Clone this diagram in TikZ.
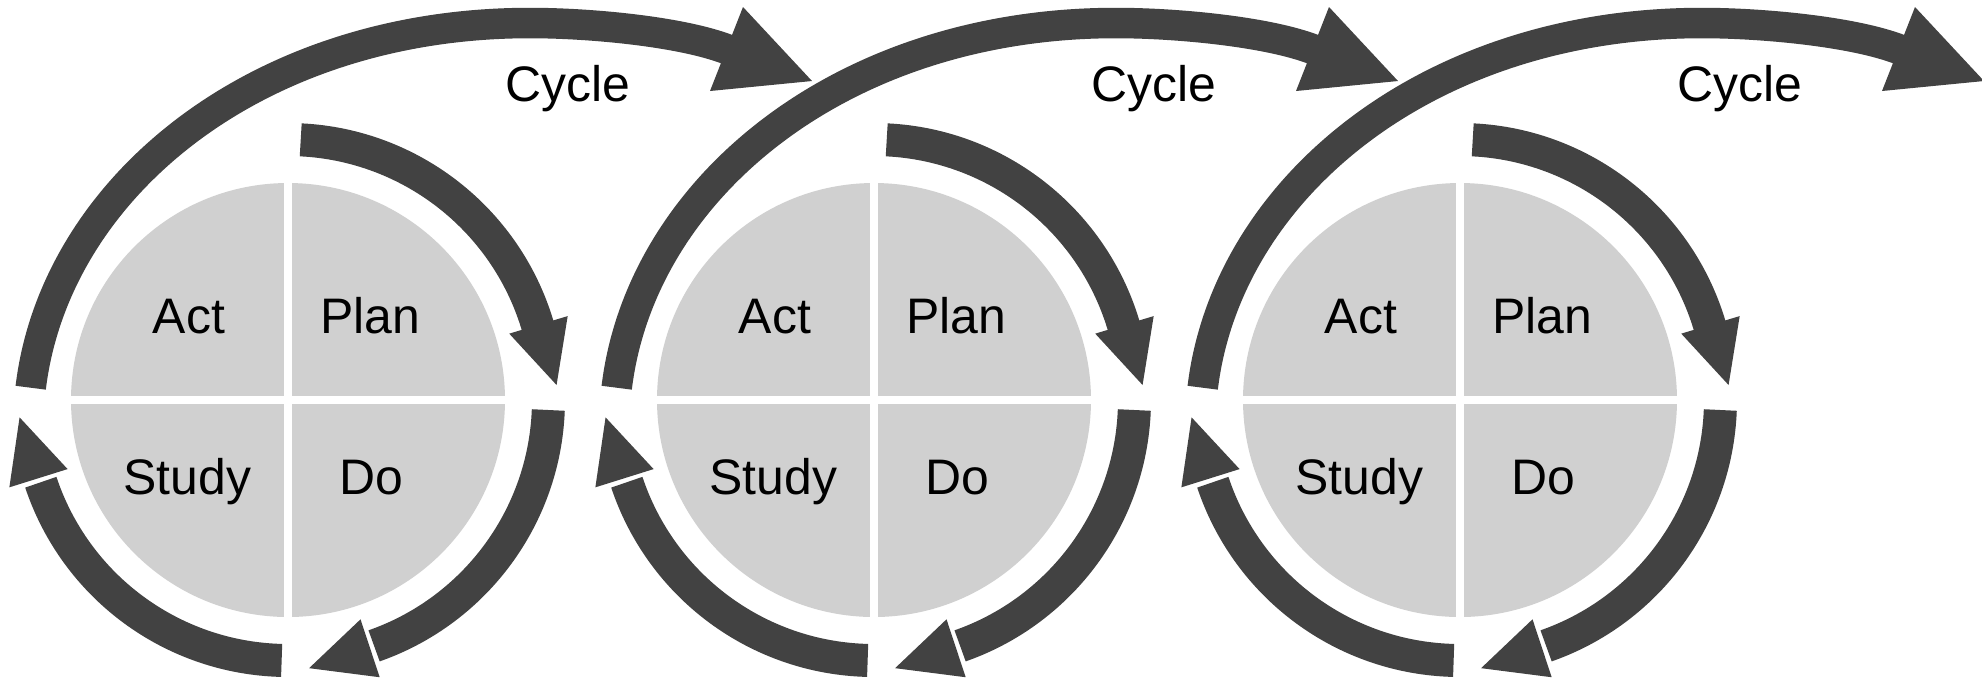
\documentclass[tikz,border=0pt]{standalone}
\usepackage{fontspec}
\setmainfont{Liberation Sans}
\usepackage{xcolor}
\usepackage{tikz}
\usetikzlibrary{calc}
\definecolor{cyclegray}{RGB}{66, 66, 66}
\definecolor{piegray}{RGB}{208, 208, 208}

\begin{document}
\begin{tikzpicture}[
    pie/.style={circle, fill=piegray, minimum size=4.34cm, inner sep=0pt},
    split/.style={white, line width=0.075cm},
    stage/.style={anchor=base, inner sep=0pt, font=\fontsize{14.2pt}{17pt}\selectfont},
    shaft/.style={draw=cyclegray, line width=0.33cm},
    bigarc/.style={draw=cyclegray, line width=0.305cm},
    arrowhead/.style={fill=cyclegray}
]
    \useasboundingbox[fill=white] (0,0) rectangle (19.82,-6.80);
    \foreach \i in {0,1,2} {
        \node[pie] (c\i) at (2.88+5.86*\i, -4.00) {};
        \draw[split] (c\i.north) -- (c\i.south);
        \draw[split] (c\i.west) -- (c\i.east);
        \node[stage] (act\i) at ($(c\i)+(-0.99,0.667)$) {Act};
        \node[stage] (plan\i) at ($(c\i)+(0.82,0.667)$) {Plan};
        \node[stage] (study\i) at ($(c\i)+(-1.005,-0.94)$) {Study};
        \node[stage] (do\i) at ($(c\i)+(0.83,-0.945)$) {Do};

        % Plan -> Do
        \draw[shaft] ($(c\i)+(87.2:2.605)$) arc[start angle=87.2, end angle=15.7, radius=2.605];
        \fill[arrowhead] ($(c\i)+(16.7:2.31)$) -- ($(c\i)+(16.7:2.92)$) -- ($(c\i)+(3.2:2.69)$) -- cycle;
        % Do -> Study
        \draw[shaft] ($(c\i)+(-2.2:2.605)$) arc[start angle=-2.2, end angle=-70.7, radius=2.605];
        \fill[arrowhead] ($(c\i)+(-71.7:2.31)$) -- ($(c\i)+(-71.7:2.92)$) -- ($(c\i)+(-85.5:2.69)$) -- cycle;
        % Study -> Act
        \draw[shaft] ($(c\i)+(-91.4:2.605)$) arc[start angle=-91.4, end angle=-161.6, radius=2.605];
        \fill[arrowhead] ($(c\i)+(-162.6:2.31)$) -- ($(c\i)+(-162.6:2.92)$) -- ($(c\i)+(-176.3:2.69)$) -- cycle;

        % Act -> next cycle
        \draw[bigarc] ($(c\i)+(-2.573,0.123)$) .. controls ($(c\i)+(-2.333,2.109)$) and ($(c\i)+(-0.33,3.77)$) .. ($(c\i)+(2.42,3.77)$)
            .. controls ($(c\i)+(3.02,3.77)$) and ($(c\i)+(3.94,3.685)$) .. ($(c\i)+(4.41,3.50)$);
        \fill[arrowhead] ($(c\i)+(4.55,3.93)$) -- ($(c\i)+(4.22,3.09)$) -- ($(c\i)+(5.24,3.19)$) -- cycle;
        \node[stage] (cycle\i) at ($(c\i)+(2.795,2.99)$) {Cycle};
    }
\end{tikzpicture}
\end{document}
